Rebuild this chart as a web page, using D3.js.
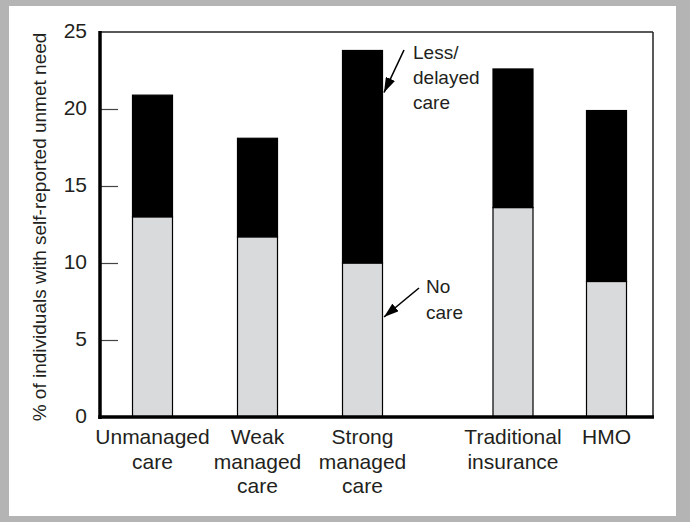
<!DOCTYPE html>
<html>
<head>
<meta charset="utf-8">
<script src="https://cdn.jsdelivr.net/npm/d3@7"></script>
<style>
html,body{margin:0;padding:0;background:#b4b4b4;}
svg{display:block;font-family:"Liberation Sans",Arial,Helvetica,sans-serif;}
</style>
</head>
<body>
<svg id="chart" width="690" height="522"></svg>
<script>
// ---- data ----
const categories = ["Unmanaged care", "Weak managed care", "Strong managed care", "Traditional insurance", "HMO"];
const categoryLines = [["Unmanaged","care"],["Weak","managed","care"],["Strong","managed","care"],["Traditional","insurance"],["HMO"]];
const groupA = ["Unmanaged care", "Weak managed care", "Strong managed care"];
const groupB = ["Traditional insurance", "HMO"];
const noCare = [13.0, 11.7, 10.0, 13.6, 8.8];
const lessDelayed = [7.9, 6.4, 13.8, 9.0, 11.1];
const yTicks = [0, 5, 10, 15, 20, 25];
const yTitle = "% of individuals with self-reported unmet need";
const annoLess = ["Less/", "delayed", "care"];
const annoNo = ["No", "care"];

(function(){
const svg = d3.select("#chart");
// white panel
svg.append("rect").attr("x",9).attr("y",6).attr("width",667).attr("height",510).attr("fill","#ffffff");

const pLeft = 100, pRight = 653, pTop = 32, pBottom = 417;
const y = d3.scaleLinear().domain([0,25]).range([pBottom, pTop]);

const xA = d3.scaleBand().domain(groupA).range([67.5, 447.5]).padding(0.619);
const xB = d3.scaleBand().domain(groupB).range([439.5, 680]).padding(0.572);
const xOf = c => groupA.includes(c) ? xA(c) : xB(c);
const bwOf = c => groupA.includes(c) ? xA.bandwidth() : xB.bandwidth();
const cx = c => xOf(c) + bwOf(c)/2;

const textColor = "#231f20";

// y axis ticks (inward)
const yAxis = d3.axisLeft(y).tickValues(yTicks).tickSizeInner(-18).tickSizeOuter(0).tickPadding(13).tickFormat(d3.format("d"));
const ag = svg.append("g").attr("transform",`translate(${pLeft},0)`).call(yAxis);
ag.select(".domain").remove();
ag.selectAll(".tick line").attr("stroke","#444").attr("stroke-width",1.2)
  .filter(d => d === 0 || d === 25).remove();
ag.selectAll(".tick text").attr("font-size",21).attr("fill",textColor).attr("dy","0.25em")
  .attr("font-family","Liberation Sans, Arial, sans-serif");

// y title
svg.append("text")
  .attr("transform",`translate(46,227) rotate(-90)`)
  .attr("text-anchor","middle").attr("font-size",19).attr("fill",textColor)
  .text(yTitle);

// bars
const rows = categories.map((c,i)=>({c, no:noCare[i], less:lessDelayed[i]}));
const bars = svg.append("g");
rows.forEach(d=>{
  const w = 40;
  const x0 = cx(d.c) - w/2;
  bars.append("rect").attr("x",x0).attr("y",y(d.no)).attr("width",w).attr("height",y(0)-y(d.no))
    .attr("fill","#d9dadc").attr("stroke","#000").attr("stroke-width",1.2);
  bars.append("rect").attr("x",x0).attr("y",y(d.no+d.less)).attr("width",w).attr("height",y(d.no)-y(d.no+d.less))
    .attr("fill","#000").attr("stroke","#000").attr("stroke-width",1.2);
});

// frame
svg.append("line").attr("x1",pLeft).attr("x2",pRight).attr("y1",pTop).attr("y2",pTop).attr("stroke","#222").attr("stroke-width",1.5);
svg.append("line").attr("x1",pRight).attr("x2",pRight).attr("y1",pTop).attr("y2",pBottom).attr("stroke","#222").attr("stroke-width",1.5);
svg.append("line").attr("x1",pLeft).attr("x2",pLeft).attr("y1",pTop-1).attr("y2",pBottom+2).attr("stroke","#000").attr("stroke-width",3.5);
svg.append("line").attr("x1",pLeft-1.7).attr("x2",pRight+1).attr("y1",pBottom).attr("y2",pBottom).attr("stroke","#000").attr("stroke-width",3.5);

// x labels
rows.forEach((d,i)=>{
  const t = svg.append("text").attr("text-anchor","middle").attr("font-size",21).attr("fill",textColor);
  categoryLines[i].forEach((ln,j)=>{
    t.append("tspan").attr("x",cx(d.c)).attr("y",444 + j*24.5).text(ln);
  });
});

// annotations
const defs = svg.append("defs");
defs.append("marker").attr("id","arr").attr("viewBox","0 0 15 10").attr("refX",15).attr("refY",5)
  .attr("markerWidth",15).attr("markerHeight",10).attr("markerUnits","userSpaceOnUse").attr("orient","auto")
  .append("path").attr("d","M0,0 L15,5 L0,10 Z").attr("fill","#000");

const strong = categories[2];
const bx = cx(strong) + 20;
svg.append("line").attr("x1",404).attr("y1",50).attr("x2",bx+1.5).attr("y2",y(noCare[2]+lessDelayed[2]) + 42)
  .attr("stroke","#000").attr("stroke-width",1.6).attr("marker-end","url(#arr)");
const tl = svg.append("text").attr("font-size",19).attr("fill",textColor);
annoLess.forEach((ln,j)=> tl.append("tspan").attr("x",413).attr("y",59 + j*25).text(ln));

svg.append("line").attr("x1",419).attr("y1",288).attr("x2",bx+1.5).attr("y2",y(noCare[2]) + 54)
  .attr("stroke","#000").attr("stroke-width",1.6).attr("marker-end","url(#arr)");
const tn = svg.append("text").attr("font-size",19).attr("fill",textColor);
annoNo.forEach((ln,j)=> tn.append("tspan").attr("x",426).attr("y",293 + j*25.5).text(ln));
})();
</script>
</body>
</html>
